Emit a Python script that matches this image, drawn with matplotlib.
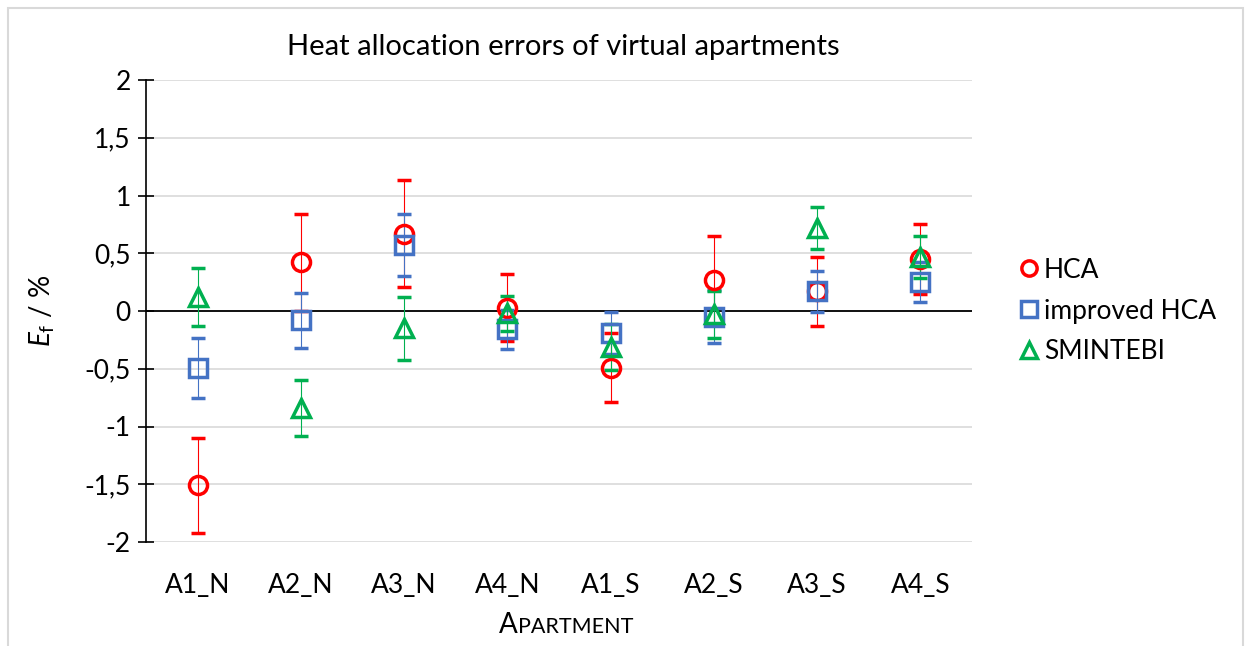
import numpy as np
import matplotlib
matplotlib.use("Agg")
import matplotlib.pyplot as plt
from matplotlib.lines import Line2D
from matplotlib.offsetbox import TextArea, HPacker, AnchoredOffsetbox
from matplotlib.patches import Rectangle

plt.rcParams['font.family'] = ['Lato', 'DejaVu Sans']
plt.rcParams['mathtext.fontset'] = 'custom'
plt.rcParams['mathtext.rm'] = 'Lato'
plt.rcParams['mathtext.it'] = 'Lato:italic'

# data
apartments = ['A1_N', 'A2_N', 'A3_N', 'A4_N', 'A1_S', 'A2_S', 'A3_S', 'A4_S']
hca = [-1.51, 0.42, 0.67, 0.03, -0.49, 0.27, 0.17, 0.45]
hca_err = [0.41, 0.42, 0.46, 0.29, 0.30, 0.38, 0.30, 0.30]
imp_hca = [-0.49, -0.08, 0.57, -0.16, -0.19, -0.05, 0.17, 0.25]
imp_err = [0.26, 0.24, 0.27, 0.17, 0.18, 0.23, 0.18, 0.17]
smintebi = [0.12, -0.84, -0.15, -0.02, -0.31, -0.03, 0.72, 0.47]
smi_err = [0.25, 0.24, 0.27, 0.15, 0.20, 0.20, 0.18, 0.18]

W, H = 1252, 646
fig = plt.figure(figsize=(W / 100, H / 100), dpi=100)
ax = fig.add_axes([146 / W, 1 - 542 / H, (972 - 146) / W, (542 - 80) / H])

x = np.arange(len(apartments))
series = [
    (hca, hca_err, 'o', '#FF0000', 'HCA'),
    (imp_hca, imp_err, 's', '#4472C4', 'improved HCA'),
    (smintebi, smi_err, '^', '#00B050', 'SMINTEBI'),
]
handles = []
for vals, err, mk, col, lab in series:
    ax.errorbar(x, vals, yerr=err, fmt=mk, color=col, ecolor=col,
                elinewidth=0.8, capsize=4.7, capthick=0.7,
                markersize=13, markeredgewidth=2.5, mfc='none', zorder=3)
    handles.append(Line2D([], [], ls='none', marker=mk, color=col, mfc='none',
                          markersize=11, markeredgewidth=2.5, label=lab))

ax.axhline(0, color='black', lw=1.3, zorder=2)
ax.set_xlim(-0.5, len(apartments) - 0.5)
ax.set_ylim(-2, 2)
yt = np.arange(-2, 2.01, 0.5)
ax.set_yticks(yt)
ax.set_yticklabels(['{:g}'.format(v).replace('.', ',') for v in yt])
ax.set_xticks(x)
ax.set_xticklabels(apartments)
ax.grid(axis='y', color='#D9D9D9', lw=1.2)
ax.set_axisbelow(True)
for s in ['top', 'right', 'bottom']:
    ax.spines[s].set_visible(False)
ax.spines['left'].set_linewidth(1.2)
ax.tick_params(axis='y', direction='inout', length=12, width=1.2, labelsize=19, pad=5)
ax.tick_params(axis='x', length=0, labelsize=19, pad=22)

ax.set_ylabel(r'$E_\mathrm{f}$ / %', fontsize=20)
ax.yaxis.set_label_coords(-0.108, 0.5)

fig.text(563 / W, 1 - 47 / H, 'Heat allocation errors of virtual apartments',
         ha='center', va='center', fontsize=21)

# small caps x label
xl = HPacker(children=[TextArea('A', textprops=dict(fontsize=20)),
                       TextArea('PARTMENT', textprops=dict(fontsize=15.5))],
             align='baseline', pad=0, sep=0)
box = AnchoredOffsetbox(loc='center', child=xl, frameon=False,
                        bbox_to_anchor=(566 / W, 1 - 625 / H),
                        bbox_transform=fig.transFigure, borderpad=0, pad=0)
fig.add_artist(box)

fig.legend(handles=handles, loc='center left', bbox_to_anchor=(1011 / W, 1 - 311 / H),
           frameon=False, fontsize=19, handlelength=0.6, handletextpad=0.25,
           labelspacing=0.6, borderaxespad=0)

# outer chart frame
fig.add_artist(Rectangle((8 / W, -0.01), (W - 9 - 8) / W, 1 - 8 / H + 0.01,
                         transform=fig.transFigure, fill=False,
                         edgecolor='#D9D9D9', lw=1.5))

fig.savefig('out.png', dpi=100)
